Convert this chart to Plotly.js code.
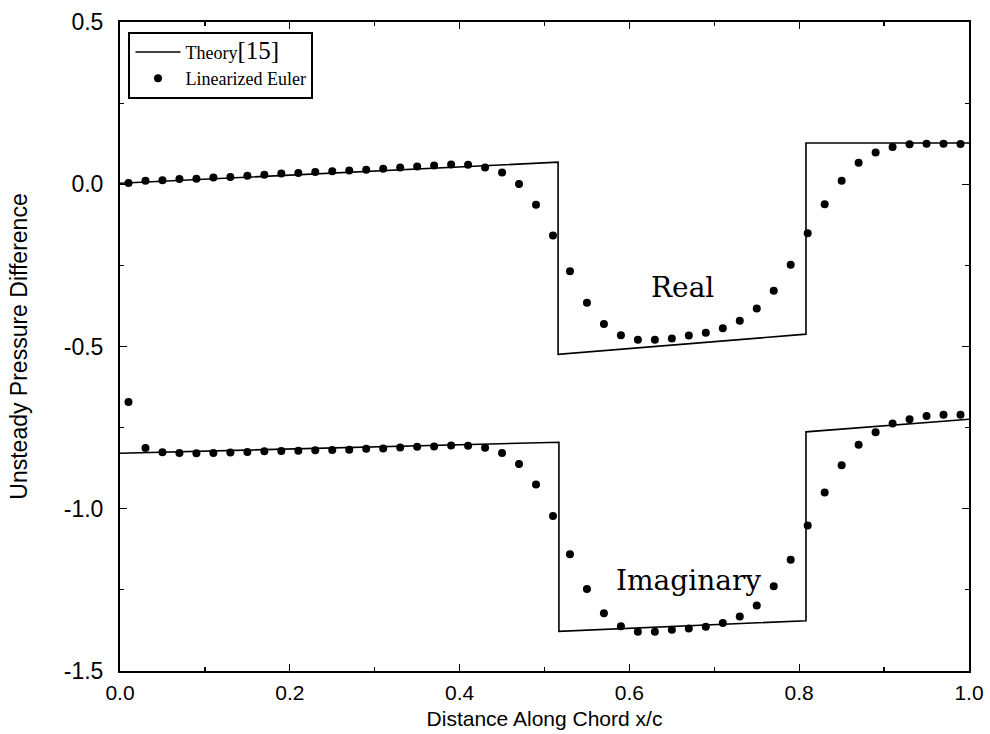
<!DOCTYPE html>
<html>
<head>
<meta charset="utf-8">
<script src="https://cdn.plot.ly/plotly-3.0.1.min.js"></script>
<style>html,body{margin:0;padding:0;background:#fff;}#chart{width:990px;height:734px;}</style>
</head>
<body>
<div id="chart"></div>
<script>
// Theory [15] polylines
const theoryRealX = [0.0, 0.516, 0.516, 0.808, 0.808, 1.0];
const theoryRealY = [0.003, 0.068, -0.524, -0.462, 0.127, 0.127];
const theoryImagX = [0.0, 0.517, 0.517, 0.808, 0.808, 1.0];
const theoryImagY = [-0.829, -0.795, -1.378, -1.345, -0.763, -0.724];

// Linearized Euler points
const eulerX = [0.01,0.03,0.05,0.07,0.09,0.11,0.13,0.15,0.17,0.19,
                0.21,0.23,0.25,0.27,0.29,0.31,0.33,0.35,0.37,0.39,
                0.41,0.43,0.45,0.47,0.49,0.51,0.53,0.55,0.57,0.59,
                0.61,0.63,0.65,0.67,0.69,0.71,0.73,0.75,0.77,0.79,
                0.81,0.83,0.85,0.87,0.89,0.91,0.93,0.95,0.97,0.99];
const eulerReal = [0.004,0.011,0.012,0.016,0.017,0.021,0.022,0.026,0.029,0.033,
                   0.035,0.038,0.040,0.042,0.045,0.048,0.052,0.055,0.058,0.061,
                   0.060,0.052,0.036,0.001,-0.063,-0.158,-0.268,-0.365,-0.431,-0.465,
                   -0.479,-0.479,-0.475,-0.466,-0.458,-0.444,-0.421,-0.383,-0.328,-0.248,
                   -0.151,-0.062,0.011,0.066,0.098,0.115,0.123,0.125,0.125,0.124];
const eulerImag = [-0.671,-0.813,-0.826,-0.828,-0.829,-0.828,-0.827,-0.825,-0.823,-0.822,
                   -0.821,-0.820,-0.819,-0.818,-0.815,-0.814,-0.811,-0.809,-0.808,-0.805,
                   -0.806,-0.812,-0.828,-0.862,-0.925,-1.022,-1.140,-1.247,-1.322,-1.362,
                   -1.379,-1.379,-1.373,-1.369,-1.364,-1.352,-1.332,-1.298,-1.239,-1.157,
                   -1.052,-0.950,-0.866,-0.803,-0.764,-0.737,-0.724,-0.714,-0.710,-0.710];

const xTickVals = [0.0, 0.2, 0.4, 0.6, 0.8, 1.0];
const xTickText = ['0.0', '0.2', '0.4', '0.6', '0.8', '1.0'];
const yTickVals = [0.5, 0.0, -0.5, -1.0, -1.5];
const yTickText = ['0.5', '0.0', '-0.5', '-1.0', '-1.5'];

const labels = [
  {text: 'Real', x: 0.662, y: -0.317},
  {text: 'Imaginary', x: 0.670, y: -1.220}
];

const lineStyle = {color: '#000', width: 1.6};
const markerStyle = {color: '#000', size: 8};

const traces = [
  {x: theoryRealX, y: theoryRealY, mode: 'lines', line: lineStyle,
   name: 'Theory<span style="font-size:25px">[15]</span>', showlegend: true},
  {x: eulerX, y: eulerReal, mode: 'markers', marker: markerStyle,
   name: 'Linearized Euler', showlegend: true},
  {x: theoryImagX, y: theoryImagY, mode: 'lines', line: lineStyle, showlegend: false},
  {x: eulerX, y: eulerImag, mode: 'markers', marker: markerStyle, showlegend: false}
];

const axisFont = {family: '"Liberation Sans", Arial, sans-serif', size: 23, color: '#000'};
const xFont = {family: '"Liberation Sans", Arial, sans-serif', size: 21, color: '#000'};

const layout = {
  width: 990, height: 734,
  margin: {l: 120, r: 21, t: 22, b: 63},
  paper_bgcolor: '#fff', plot_bgcolor: '#fff',
  font: axisFont,
  showlegend: true,
  legend: {
    x: 0.01, y: 0.985, xanchor: 'left', yanchor: 'top',
    bgcolor: '#fff', bordercolor: '#000', borderwidth: 2,
    font: {family: '"Liberation Serif", "Times New Roman", serif', size: 18, color: '#000'},
    tracegroupgap: 0, itemwidth: 45
  },
  xaxis: {
    range: [0, 1], tickvals: xTickVals, ticktext: xTickText,
    ticks: 'inside', ticklen: 7, tickwidth: 1.2, tickcolor: '#000',
    showline: true, linecolor: '#000', linewidth: 2, mirror: 'ticks',
    showgrid: false, zeroline: false,
    tickfont: xFont, ticklabelstandoff: 2,
    minor: {dtick: 0.1, tick0: 0, ticks: 'inside', ticklen: 4, tickcolor: '#000', showgrid: false},
    title: {text: 'Distance Along Chord x/c', font: xFont, standoff: 8}
  },
  yaxis: {
    range: [-1.5, 0.5], tickvals: yTickVals, ticktext: yTickText,
    ticks: 'inside', ticklen: 7, tickwidth: 1.2, tickcolor: '#000',
    showline: true, linecolor: '#000', linewidth: 2, mirror: 'ticks',
    showgrid: false, zeroline: false,
    tickfont: axisFont, ticklabelstandoff: 10,
    minor: {dtick: 0.25, tick0: 0, ticks: 'inside', ticklen: 4, tickcolor: '#000', showgrid: false},
    title: {text: 'Unsteady Pressure Difference', font: axisFont, standoff: 30}
  },
  annotations: labels.map(l => ({
    x: l.x, y: l.y, xref: 'x', yref: 'y', text: l.text, showarrow: false,
    xanchor: 'center', yanchor: 'middle',
    font: {family: '"DejaVu Serif", serif', size: 28, color: '#000'}
  }))
};

Plotly.newPlot('chart', traces, layout, {displayModeBar: false, staticPlot: true});
</script>
</body>
</html>
